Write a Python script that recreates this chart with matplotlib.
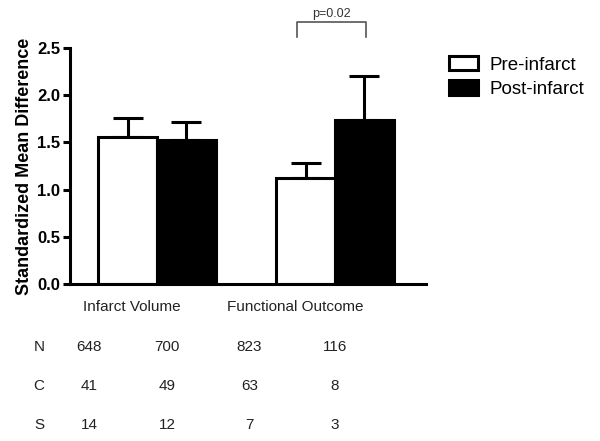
import matplotlib
matplotlib.use("Agg")
import matplotlib.pyplot as plt
import matplotlib.transforms as mtransforms
from matplotlib.patches import Patch

# data
groups = ["Infarct Volume", "Functional Outcome"]
series = ["Pre-infarct", "Post-infarct"]
pre_mean = [1.56, 1.12]
pre_err = [0.20, 0.16]
post_mean = [1.53, 1.74]
post_err = [0.19, 0.46]

row_labels = ["N", "C", "S"]
row_values = [
    ["648", "700", "823", "116"],
    ["41", "49", "63", "8"],
    ["14", "12", "7", "3"],
]
p_text = "p=0.02"

plt.rcParams['font.family'] = ['Liberation Sans', 'DejaVu Sans']

fig = plt.figure(figsize=(6, 4.41), dpi=100)
ax = fig.add_axes([0.1167, 0.356, 0.5933, 0.535])

x = [1, 2]
w = 0.33
lw = 2.2
ax.bar([xi - w / 2 for xi in x], pre_mean, width=w, color="white",
       edgecolor="black", linewidth=lw, zorder=2)
ax.bar([xi + w / 2 for xi in x], post_mean, width=w, color="black",
       edgecolor="black", linewidth=lw, zorder=2)
ax.errorbar([xi - w / 2 for xi in x], pre_mean, yerr=[[0, 0], pre_err],
            fmt="none", ecolor="black", elinewidth=lw, capsize=10.5,
            capthick=lw, zorder=1)
ax.errorbar([xi + w / 2 for xi in x], post_mean, yerr=[[0, 0], post_err],
            fmt="none", ecolor="black", elinewidth=lw, capsize=10.5,
            capthick=lw, zorder=1)

ax.set_xlim(0.511, 2.511)
ax.set_ylim(0, 2.5)
ax.set_yticks([0, 0.5, 1.0, 1.5, 2.0, 2.5])
ax.set_yticklabels(["0.0", "0.5", "1.0", "1.5", "2.0", "2.5"],
                   fontsize=12, fontweight="bold")
ax.set_xticks([])
for s in ["top", "right"]:
    ax.spines[s].set_visible(False)
for s in ["left", "bottom"]:
    ax.spines[s].set_linewidth(lw)
ax.tick_params(axis="y", width=lw, length=5, pad=2)
ax.set_ylabel("Standardized Mean Difference", fontsize=13,
              fontweight="bold", labelpad=3)

# significance bracket
bx1, bx2 = 1.787, 2.174
ax.plot([bx1, bx1, bx2, bx2], [2.62, 2.78, 2.78, 2.62], color="#555555",
        linewidth=1.2, clip_on=False)
ax.text((bx1 + bx2) / 2, 2.80, p_text, ha="center", va="bottom",
        fontsize=9, color="#333333")

# legend
handles = [Patch(facecolor="white", edgecolor="black", linewidth=lw),
           Patch(facecolor="black", edgecolor="black", linewidth=lw)]
fig.legend(handles, series, loc="upper left", bbox_to_anchor=(0.735, 0.89),
           frameon=False, fontsize=13.5, handlelength=1.55, handleheight=0.8,
           handletextpad=0.65, labelspacing=0.35, borderaxespad=0)

# table below the axis
trans = mtransforms.blended_transform_factory(ax.transData, fig.transFigure)
group_x = [0.86, 1.775]
for gx, g in zip(group_x, groups):
    ax.text(gx, 1 - 307 / 441, g, transform=trans, ha="center", va="center",
            fontsize=11, color="#222222")
col_x = [0.618, 1.056, 1.52, 2.0]
row_y = [347, 386, 425]
for lab, vals, ry in zip(row_labels, row_values, row_y):
    yy = 1 - ry / 441
    ax.text(0.511 - 31 / 178, yy, lab, transform=trans, ha="center",
            va="center", fontsize=11, color="#222222")
    for cx, v in zip(col_x, vals):
        ax.text(cx, yy, v, transform=trans, ha="center", va="center",
                fontsize=11, color="#222222")

fig.savefig("out.png", dpi=100)
